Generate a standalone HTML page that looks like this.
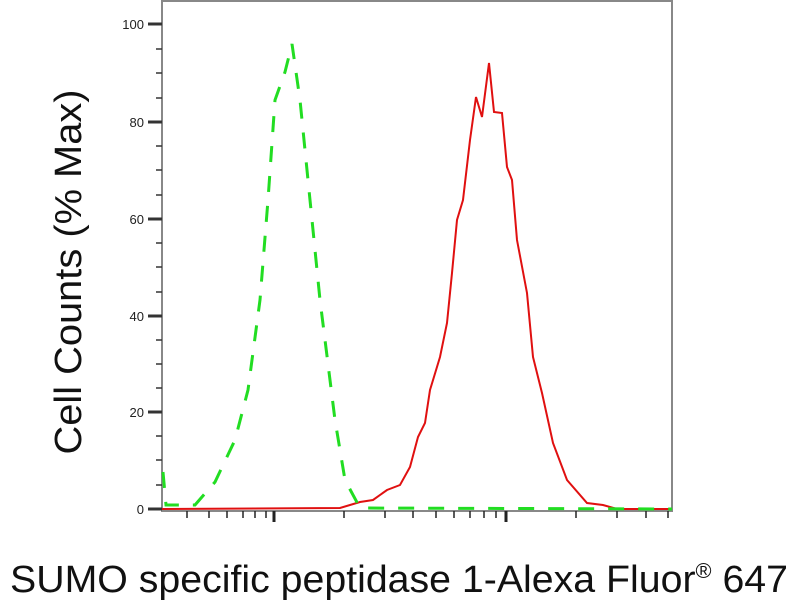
<!DOCTYPE html>
<html><head><style>body{margin:0;background:#fff}svg{display:block}</style></head><body>
<svg width="800" height="600" xmlns="http://www.w3.org/2000/svg" font-family="Liberation Sans, sans-serif">
<rect x="162" y="1" width="510" height="510" fill="none" stroke="#888" stroke-width="2"/>
<g stroke="#333" stroke-width="3">
<line x1="148" y1="24" x2="162" y2="24"/><line x1="148" y1="122" x2="162" y2="122"/>
<line x1="148" y1="219" x2="162" y2="219"/><line x1="148" y1="316" x2="162" y2="316"/>
<line x1="148" y1="412" x2="162" y2="412"/><line x1="148" y1="509" x2="162" y2="509"/>
</g>
<g stroke="#333" stroke-width="1.5">
<line x1="156" y1="49" x2="162" y2="49"/><line x1="156" y1="73" x2="162" y2="73"/><line x1="156" y1="98" x2="162" y2="98"/>
<line x1="156" y1="146" x2="162" y2="146"/><line x1="156" y1="170" x2="162" y2="170"/><line x1="156" y1="195" x2="162" y2="195"/>
<line x1="156" y1="243" x2="162" y2="243"/><line x1="156" y1="267" x2="162" y2="267"/><line x1="156" y1="292" x2="162" y2="292"/>
<line x1="156" y1="340" x2="162" y2="340"/><line x1="156" y1="364" x2="162" y2="364"/><line x1="156" y1="388" x2="162" y2="388"/>
<line x1="156" y1="436" x2="162" y2="436"/><line x1="156" y1="460" x2="162" y2="460"/><line x1="156" y1="485" x2="162" y2="485"/>
</g>
<g font-size="13" text-anchor="end" fill="#222">
<text x="144" y="29">100</text><text x="144" y="127">80</text><text x="144" y="224">60</text>
<text x="144" y="321">40</text><text x="144" y="417">20</text><text x="144" y="514">0</text>
</g>
<g stroke="#222" stroke-width="1.5">
<line x1="187" y1="511" x2="187" y2="518"/><line x1="209" y1="511" x2="209" y2="518"/><line x1="227" y1="511" x2="227" y2="518"/>
<line x1="243" y1="511" x2="243" y2="518"/><line x1="255" y1="511" x2="255" y2="518"/><line x1="266" y1="511" x2="266" y2="518"/>
<line x1="344" y1="511" x2="344" y2="518"/><line x1="385" y1="511" x2="385" y2="518"/><line x1="413" y1="511" x2="413" y2="518"/>
<line x1="436" y1="511" x2="436" y2="518"/><line x1="454" y1="511" x2="454" y2="518"/><line x1="470" y1="511" x2="470" y2="518"/>
<line x1="484" y1="511" x2="484" y2="518"/><line x1="496" y1="511" x2="496" y2="518"/>
<line x1="576" y1="511" x2="576" y2="518"/><line x1="617" y1="511" x2="617" y2="518"/><line x1="646" y1="511" x2="646" y2="518"/><line x1="668" y1="511" x2="668" y2="518"/>
</g>
<g stroke="#222" stroke-width="3">
<line x1="274" y1="511" x2="274" y2="522"/><line x1="506" y1="511" x2="506" y2="522"/>
</g>
<polyline fill="none" stroke="#e01010" stroke-width="2" points="162,509 340,508 360,502 373,500 387,490 400,485 410,467 418,437 425,423 430,390 440,357 447,323 452,273 457,220 463,200 470,140 476,97 482,117 489,63 494,112 502,113 507,167 512,180 517,240 527,293 533,357 542,393 553,443 567,480 587,503 603,505 617,509 672,509"/>
<polyline fill="none" stroke="#22dd22" stroke-width="3" stroke-dasharray="16,14" points="163,472 166,505 195,505 215,482 235,440 248,390 260,300 268,200 275,100 285,72 292,44 300,100 310,200 320,300 335,420 345,480 360,508 672,509"/>
<text transform="translate(81,272) rotate(-90)" font-size="38" text-anchor="middle" fill="#111" textLength="365" lengthAdjust="spacingAndGlyphs">Cell Counts (% Max)</text>
<text x="10" y="592" font-size="38" fill="#111" textLength="778" lengthAdjust="spacingAndGlyphs">SUMO specific peptidase 1-Alexa Fluor<tspan font-size="21" dy="-14">®</tspan><tspan dy="14"> 647</tspan></text>
</svg>
</body></html>
